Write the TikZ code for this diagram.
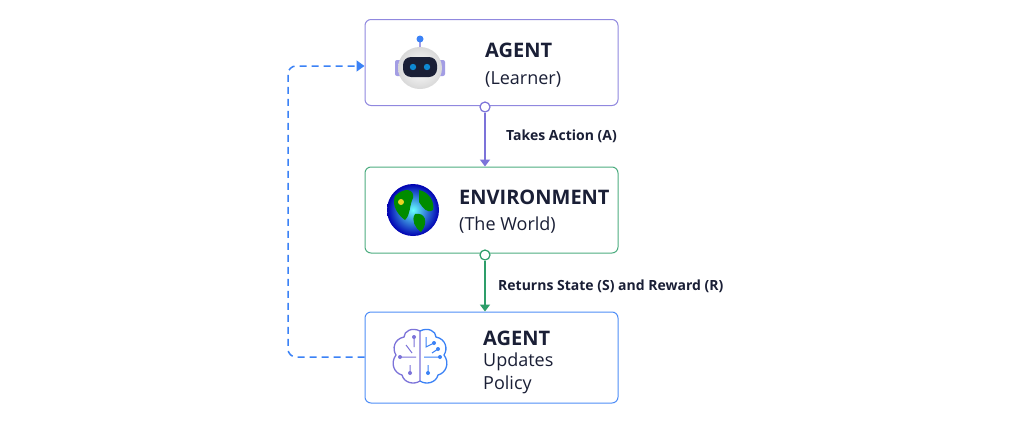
\documentclass[tikz,border=0pt]{standalone}
\usepackage{fontspec}
\setmainfont{Open Sans}
\usetikzlibrary{arrows.meta}
\definecolor{pur}{HTML}{7C73D9}
\definecolor{grn}{HTML}{2E9E6A}
\definecolor{blu}{HTML}{3B82F6}
\definecolor{ink}{HTML}{1A1F36}
\begin{document}
\begin{tikzpicture}[x=1pt,y=-1pt,
 box/.style={draw=#1,line width=1pt,rounded corners=6pt,fill=white,minimum width=253pt,minimum height=86pt,inner sep=0pt},
 ttl/.style={font=\fontsize{20}{22}\selectfont\bfseries,text=ink,anchor=west,inner sep=0pt},
 sub/.style={font=\fontsize{18}{23}\selectfont,text=ink,anchor=west,align=left,inner sep=0pt},
 lab/.style={font=\fontsize{14}{16}\selectfont\bfseries,text=ink,anchor=west,inner sep=0pt},
 port/.style={circle,draw=#1,line width=1.2pt,fill=white,minimum size=10pt,inner sep=0pt}]
\useasboundingbox (0,0) rectangle (1024,439);
\fill[white] (0,0) rectangle (1024,439);
\node[box=pur!85] (a) at (491.5,62.5) {};
\node[box=grn!85] (e) at (491.5,210) {};
\node[box=blu!90, minimum height=91pt] (u) at (491.5,357.5) {};
% texts
\node[ttl] (at) at (485,50) {AGENT};
\node[sub] (al) at (485,79) {(Learner)};
\node[ttl] (et) at (459,197) {ENVIRONMENT};
\node[sub] (el) at (459,225) {(The World)};
\node[ttl] (ut) at (483,338) {AGENT};
\node[sub] (ul) at (483,373) {Updates\\Policy};
% ports and arrows
\node[port=pur] (p1) at (485,107) {};
\node[port=grn] (p2) at (485,255) {};
\draw[pur,line width=1.5pt,-{Triangle[length=7pt,width=10pt]}] (p1) -- (p1 |- e.north);
\draw[grn,line width=1.5pt,-{Triangle[length=7pt,width=10pt]}] (p2) -- (p2 |- u.north);
\node[lab] (l1) at (506,136) {Takes Action (A)};
\node[lab] (l2) at (498,286) {Returns State (S) and Reward (R)};
% feedback
\coordinate (c1) at (288,357);
\coordinate (c2) at (288,66);
\draw[blu,line width=1.5pt,dash pattern=on 7pt off 5pt,rounded corners=8pt,-{Triangle[length=8pt,width=11pt]}] (u.west |- 0,357) -- (c1) -- (c2) -- (a.west |- 0,66);
% robot icon
\begin{scope}[shift={(420,68)}]
\fill[pur!70,rounded corners=2pt] (-25,-8) rectangle (-18,8);
\fill[pur!70,rounded corners=2pt] (18,-8) rectangle (25,8);
\draw[pur!70,line width=1.5pt] (0,-20) -- (0,-28);
\fill[blu] (0,-29) circle (3.5);
\shade[inner color=white,outer color=gray!30] (0,0) ellipse (22 and 21);
\fill[ink,rounded corners=8pt] (-17,-11) rectangle (17,9);
\fill[cyan!70!blue] (-7,-1) circle (3.2);
\fill[cyan!70!blue] (7,-1) circle (3.2);
\end{scope}
% globe icon
\begin{scope}[shift={(413,210)}]
\shade[inner color=cyan!60,outer color=blue!70!black] (0,0) circle (26);
\fill[green!55!black] (-18,-14) .. controls (-8,-24) and (2,-20) .. (0,-12) .. controls (-4,-4) and (-2,4) .. (-8,10) .. controls (-14,6) and (-22,-4) .. (-18,-14);
\fill[green!55!black] (6,-20) .. controls (16,-18) and (22,-8) .. (20,0) .. controls (14,4) and (10,-2) .. (6,-8) -- cycle;
\fill[green!55!black] (2,4) .. controls (12,2) and (16,12) .. (8,22) .. controls (2,18) and (-2,10) .. (2,4);
\fill[yellow!70!brown] (-12,-8) circle (3);
\end{scope}
% brain icon
\begin{scope}[shift={(420,357)},line width=1.3pt]
\draw[pur] (0,-26) .. controls (-8,-30) and (-16,-26) .. (-16,-20) .. controls (-26,-18) and (-28,-8) .. (-24,-2) .. controls (-30,6) and (-26,16) .. (-18,18) .. controls (-16,26) and (-6,28) .. (0,24) -- cycle;
\draw[blu] (0,-26) .. controls (8,-30) and (16,-26) .. (16,-20) .. controls (26,-18) and (28,-8) .. (24,-2) .. controls (30,6) and (26,16) .. (18,18) .. controls (16,26) and (6,28) .. (0,24);
\draw[pur,line width=1pt] (-6,-20) -- (-6,-10) (-20,0) -- (-4,0) (-10,8) -- (-10,16) (-14,-12) -- (-8,-4);
\fill[pur] (-6,-20) circle (2) (-20,0) circle (2) (-10,16) circle (2);
\draw[blu,line width=1pt] (6,-20) -- (6,-10) -- (14,-14) (4,0) -- (20,0) (8,8) -- (8,16) (12,-4) -- (18,-8);
\fill[blu] (14,-14) circle (2) (20,0) circle (2) (8,16) circle (2) (18,-8) circle (2);
\end{scope}
\end{tikzpicture}
\end{document}
